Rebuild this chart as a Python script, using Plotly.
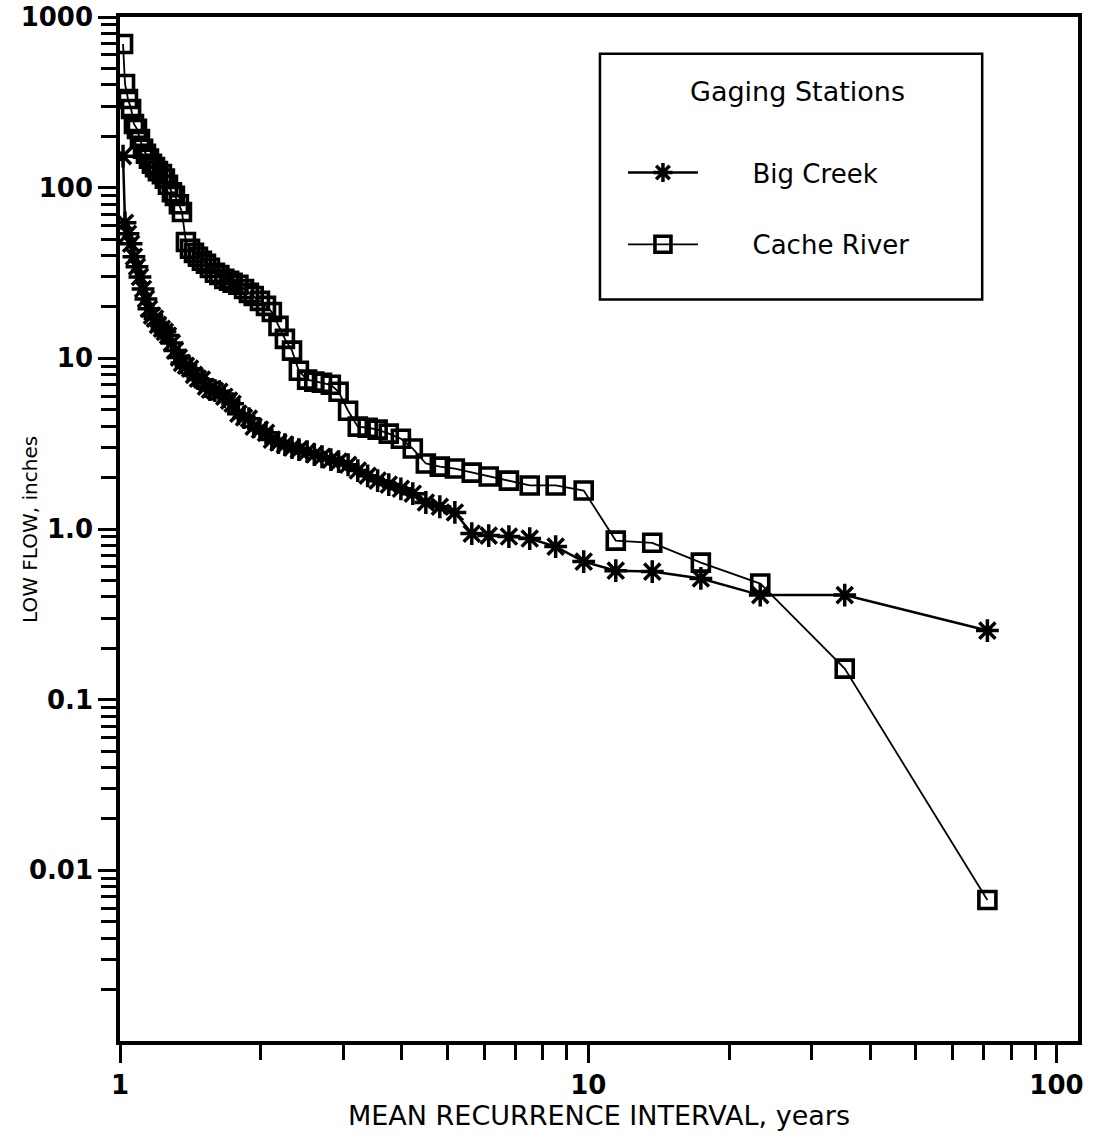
import plotly.graph_objects as go

# Mean recurrence interval (years) (same for both stations)
recurrence_interval = [
    71.2, 35.3, 23.3, 17.4, 13.7, 11.45, 9.78, 8.52, 7.50, 6.77,
    6.13, 5.64, 5.19, 4.82, 4.50, 4.22, 3.98, 3.75, 3.55, 3.38,
    3.22, 3.07, 2.93, 2.82, 2.70, 2.60, 2.51, 2.41, 2.33, 2.25,
    2.18, 2.11, 2.05, 1.99, 1.93, 1.885, 1.84, 1.79, 1.74, 1.71,
    1.67, 1.63, 1.595, 1.556, 1.526, 1.496, 1.467, 1.439, 1.411, 1.383,
    1.356, 1.336, 1.310, 1.291, 1.266, 1.247, 1.229, 1.205, 1.188, 1.170,
    1.153, 1.136, 1.120, 1.103, 1.087, 1.071, 1.056, 1.040, 1.025, 1.015,
]

# Low flow (inches)
big_creek = [
    0.254, 0.41, 0.41, 0.513, 0.563, 0.57, 0.644, 0.789, 0.879, 0.903,
    0.915, 0.94, 1.25, 1.35, 1.43, 1.61, 1.72, 1.82, 1.92, 2.05,
    2.20, 2.38, 2.48, 2.55, 2.65, 2.73, 2.84, 2.92, 3.0, 3.12,
    3.21, 3.34, 3.66, 3.82, 3.98, 4.43, 4.5, 4.74, 5.42, 5.65,
    5.96, 6.37, 6.46, 6.55, 6.82, 7.5, 7.6, 8.0, 8.7, 9.05,
    9.4, 10.1, 11.1, 12.3, 13.6, 14.3, 14.9, 15.7, 17.1, 17.8,
    19.5, 22.3, 25.5, 30.0, 34.4, 39.4, 46.9, 53.7, 62.2, 153.0,
]

cache_river = [
    0.0067, 0.152, 0.479, 0.635, 0.83, 0.855, 1.68, 1.80, 1.80, 1.92,
    2.03, 2.14, 2.26, 2.32, 2.42, 2.96, 3.38, 3.62, 3.82, 3.92,
    3.98, 4.93, 6.37, 7.0, 7.19, 7.30, 7.50, 8.46, 11.1, 13.0,
    15.5, 18.7, 20.3, 21.7, 23.2, 24.2, 25.5, 27.0, 27.7, 28.5,
    29.2, 30.8, 31.7, 33.9, 35.8, 37.3, 39.4, 41.5, 43.9, 48.0,
    72.0, 80.0, 89.5, 94.0, 104.0, 113.0, 120.0, 125.0, 132.0, 138.0,
    148.0, 158.0, 169.0, 193.0, 221.0, 236.0, 289.0, 331.0, 405.0, 695.0,
]

x_major = [1, 10, 100]
x_major_text = ["1", "10", "100"]
x_minor = [2, 3, 4, 5, 6, 7, 8, 9, 20, 30, 40, 50, 60, 70, 80, 90]

y_major = [0.01, 0.1, 1, 10, 100, 1000]
y_major_text = ["0.01", "0.1", "1.0", "10", "100", "1000"]
y_minor = [m * 10 ** e for e in range(-3, 3) for m in range(2, 10)]

FONT = "DejaVu Sans"
NB = "\u00a0"

fig = go.Figure()
fig.add_trace(go.Scatter(
    x=recurrence_interval, y=big_creek, mode="lines+markers",
    name=NB * 6 + "Big Creek", legendgroup="a",
    line=dict(color="black", width=2.5),
    marker=dict(symbol="asterisk-open", size=19, color="black",
                line=dict(color="black", width=3.5)),
))
fig.add_trace(go.Scatter(
    x=recurrence_interval, y=cache_river, mode="lines+markers",
    name=NB * 6 + "Cache River", legendgroup="b",
    line=dict(color="black", width=1.8),
    marker=dict(symbol="square-open", size=17, color="black",
                line=dict(color="black", width=3.6)),
))

axis_common = dict(
    showline=True, linecolor="black", linewidth=3.5, mirror=True,
    showgrid=False, zeroline=False, ticks="outside", ticklen=18,
    tickwidth=3, tickcolor="black",
    tickfont=dict(family=FONT, size=26, color="black", weight="bold"),
)

fig.update_xaxes(
    type="log", range=[0, 2.046],
    tickmode="array", tickvals=x_major, ticktext=x_major_text,
    minor=dict(tickmode="array", tickvals=x_minor, ticks="outside",
               ticklen=15, tickwidth=3, tickcolor="black"),
    title=dict(text="MEAN RECURRENCE INTERVAL, years",
               font=dict(family=FONT, size=27, color="black"), standoff=2),
    **axis_common,
)
fig.update_yaxes(
    type="log", range=[-3, 3],
    tickmode="array", tickvals=y_major, ticktext=y_major_text,
    minor=dict(tickmode="array", tickvals=y_minor, ticks="outside",
               ticklen=15, tickwidth=3, tickcolor="black"),
    **axis_common,
)

fig.add_annotation(
    text="LOW FLOW, inches", textangle=-90, showarrow=False,
    xref="paper", yref="paper", x=-0.094, y=0.5, xanchor="center", yanchor="middle",
    font=dict(family=FONT, size=20, color="black"),
)

# legend frame and heading
fig.add_shape(type="rect", xref="paper", yref="paper",
              x0=0.501, x1=0.900, y0=0.724, y1=0.964,
              line=dict(color="black", width=2.5), fillcolor="rgba(0,0,0,0)")
fig.add_annotation(
    text="Gaging Stations", showarrow=False,
    xref="paper", yref="paper", x=0.7067, y=0.9268, xanchor="center", yanchor="middle",
    font=dict(family=FONT, size=27, color="black"),
)

fig.update_layout(
    width=1099, height=1141,
    margin=dict(l=120, r=21, t=17, b=100, autoexpand=False),
    paper_bgcolor="white", plot_bgcolor="white",
    font=dict(family=FONT, color="black"),
    showlegend=True,
    legend=dict(
        x=0.525, y=0.871, xanchor="left", yanchor="top",
        bgcolor="rgba(0,0,0,0)", borderwidth=0,
        font=dict(family=FONT, size=26, color="black"),
        itemwidth=70, tracegroupgap=35, traceorder="grouped",
    ),
)

fig.write_html("out.html")
